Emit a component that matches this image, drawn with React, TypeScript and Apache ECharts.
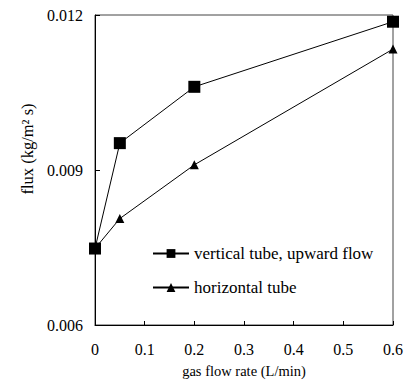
import React, { useEffect, useRef } from "react";
import * as echarts from "echarts";

const gasFlow = [0, 0.05, 0.2, 0.6];
const verticalFlux = [0.00748, 0.00952, 0.01061, 0.01187];
const horizontalFlux = [0.00748, 0.00806, 0.0091, 0.01134];
const seriesNames = ["vertical tube, upward flow", "horizontal tube"];
const FONT = "Liberation Serif";

export default function App() {
  const ref = useRef<HTMLDivElement>(null);
  useEffect(() => {
    if (!ref.current) return;
    const chart = echarts.init(ref.current, null, { renderer: "svg" });
    chart.setOption({
      animation: false,
      backgroundColor: "#fff",
      grid: { left: 95, top: 15, right: 8, bottom: 56, show: true, borderColor: "#444", borderWidth: 1 },
      legend: {
        orient: "vertical",
        left: 147,
        top: 240,
        itemGap: 17,
        itemWidth: 36,
        itemHeight: 11,
        textStyle: { fontFamily: FONT, fontSize: 17, color: "#000" },
        data: seriesNames,
      },
      graphic: [
        {
          type: "text",
          x: 27,
          y: 149,
          rotation: Math.PI / 2,
          style: {
            text: "flux (kg/m² s)",
            font: `16.5px ${FONT}`,
            fill: "#000",
            textAlign: "center",
            textVerticalAlign: "middle",
          },
        },
      ],
      xAxis: {
        type: "value",
        min: 0,
        max: 0.6,
        interval: 0.1,
        name: "gas flow rate (L/min)",
        nameLocation: "middle",
        nameGap: 38,
        nameTextStyle: { fontFamily: FONT, fontSize: 14.5, color: "#000" },
        axisLine: { show: true, lineStyle: { color: "#000", width: 1 } },
        axisTick: { show: true, inside: true, length: 4, lineStyle: { color: "#000" } },
        axisLabel: {
          margin: 16,
          fontFamily: FONT,
          fontSize: 16,
          color: "#000",
          formatter: (v: number) => (v === 0 ? "0" : v.toFixed(1)),
        },
        splitLine: { show: false },
      },
      yAxis: {
        type: "value",
        min: 0.006,
        max: 0.012,
        interval: 0.003,
        axisLine: { show: true, lineStyle: { color: "#000", width: 1 } },
        axisTick: { show: true, inside: true, length: 5, lineStyle: { color: "#000" } },
        axisLabel: {
          margin: 12,
          fontFamily: FONT,
          fontSize: 16,
          color: "#000",
          formatter: (v: number) => v.toFixed(3),
        },
        splitLine: { show: false },
      },
      series: [
        {
          name: seriesNames[0],
          type: "line",
          data: gasFlow.map((x, i) => [x, verticalFlux[i]]),
          symbol: "rect",
          symbolSize: 12,
          itemStyle: { color: "#000" },
          lineStyle: { color: "#000", width: 1 },
          clip: false,
        },
        {
          name: seriesNames[1],
          type: "line",
          data: gasFlow.map((x, i) => [x, horizontalFlux[i]]),
          symbol: "triangle",
          symbolSize: 9,
          itemStyle: { color: "#000" },
          lineStyle: { color: "#000", width: 1 },
          clip: false,
        },
      ],
    });
    return () => chart.dispose();
  }, []);
  return <div ref={ref} style={{ width: 406, height: 383, position: "absolute", left: 0, top: 0 }} />;
}
